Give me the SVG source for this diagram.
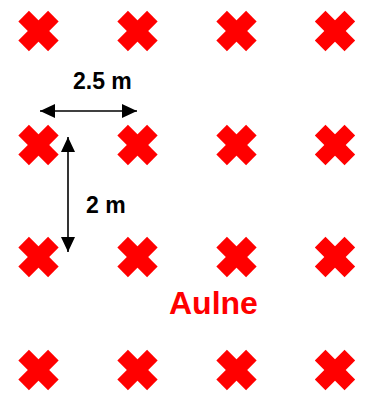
<svg xmlns="http://www.w3.org/2000/svg" xmlns:xlink="http://www.w3.org/1999/xlink" width="366" height="404" viewBox="0 0 366 404">
  <style>
    .tree { fill: #ff0000; }
    .dim { stroke: #000; stroke-width: 1.6; fill: none; }
    .lbl { font-family: "Liberation Sans", Arial, sans-serif; font-weight: bold; fill: #000; }
    .name { font-family: "Liberation Sans", Arial, sans-serif; font-weight: bold; fill: #ff0000; }
  </style>
  <defs>
    <!-- planting mark: bold red cross -->
    <g id="cross" class="tree" transform="rotate(45)">
      <rect x="-21" y="-7.5" width="42" height="15"/>
      <rect x="-7.5" y="-21" width="15" height="42"/>
    </g>
    <marker id="head" markerUnits="userSpaceOnUse" markerWidth="16" markerHeight="16" viewBox="0 0 16 16" refX="15" refY="8" orient="auto-start-reverse">
      <path d="M0,1 L15,8 L0,15 Z" fill="#000"/>
    </marker>
  </defs>

  <rect width="366" height="404" fill="#fff"/>

  <!-- planting grid, 4 rows x 4 columns -->
  <g id="trees">
    <g id="r1c1"><use xlink:href="#cross" href="#cross" x="38.5" y="31"/></g>
    <g id="r1c2"><use xlink:href="#cross" href="#cross" x="137.5" y="31"/></g>
    <g id="r1c3"><use xlink:href="#cross" href="#cross" x="236.5" y="31"/></g>
    <g id="r1c4"><use xlink:href="#cross" href="#cross" x="335" y="31"/></g>

    <g id="r2c1"><use xlink:href="#cross" href="#cross" x="38.5" y="145"/></g>
    <g id="r2c2"><use xlink:href="#cross" href="#cross" x="137.5" y="145"/></g>
    <g id="r2c3"><use xlink:href="#cross" href="#cross" x="236.5" y="145"/></g>
    <g id="r2c4"><use xlink:href="#cross" href="#cross" x="335" y="145"/></g>

    <g id="r3c1"><use xlink:href="#cross" href="#cross" x="38.5" y="257"/></g>
    <g id="r3c2"><use xlink:href="#cross" href="#cross" x="137.5" y="257"/></g>
    <g id="r3c3"><use xlink:href="#cross" href="#cross" x="236.5" y="257"/></g>
    <g id="r3c4"><use xlink:href="#cross" href="#cross" x="335" y="257"/></g>

    <g id="r4c1"><use xlink:href="#cross" href="#cross" x="38.5" y="370"/></g>
    <g id="r4c2"><use xlink:href="#cross" href="#cross" x="137.5" y="370"/></g>
    <g id="r4c3"><use xlink:href="#cross" href="#cross" x="236.5" y="370"/></g>
    <g id="r4c4"><use xlink:href="#cross" href="#cross" x="335" y="370"/></g>
  </g>

  <!-- spacing dimensions -->
  <g id="connectors">
    <line class="dim" x1="40" y1="111" x2="137" y2="111" marker-start="url(#head)" marker-end="url(#head)"/>
    <line class="dim" x1="68" y1="137" x2="68" y2="252" marker-start="url(#head)" marker-end="url(#head)"/>
  </g>

  <g id="labels">
    <text class="lbl" x="73" y="89" font-size="23">2.5 m</text>
    <text class="lbl" x="86" y="213" font-size="23">2 m</text>
    <text class="name" x="169" y="314" font-size="32">Aulne</text>
  </g>
</svg>
